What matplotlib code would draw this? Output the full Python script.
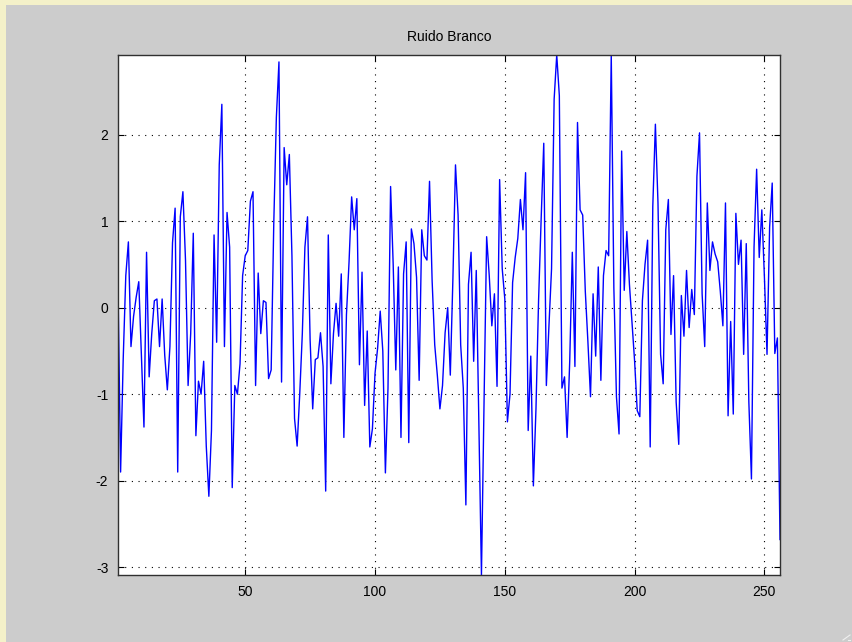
import matplotlib
matplotlib.use("Agg")
import matplotlib.pyplot as plt
import numpy as np
from matplotlib.patches import Rectangle
from matplotlib.lines import Line2D

# samples, in order, split into blocks
noise_a = [0.27, -1.9, -0.6, 0.37, 0.76, -0.45, -0.1, 0.12, 0.3, -0.55,
           -1.38, 0.64, -0.8, -0.3, 0.08, 0.1, -0.45, 0.1, -0.55, -0.95,
           -0.45, 0.75, 1.15, -1.9, 1.05, 1.34, 0.55, -0.9]
noise_b = [-0.3, 0.86, -1.48, -0.85, -1.0, -0.62, -1.6, -2.18, -1.42, 0.84,
           -0.4, 1.65, 2.35, -0.45, 1.1, 0.7, -2.08, -0.9, -1.0, -0.65,
           0.37, 0.6, 0.66, 1.23, 1.34, -0.9, 0.4, -0.3, 0.08, 0.06,
           -0.82, -0.72, 0.97]
noise_c = [2.2, 2.84, -0.86, 1.85, 1.42, 1.77, 0.6, -1.28, -1.6, -1.0,
           -0.3, 0.7, 1.05, -0.37, -1.17, -0.6, -0.58, -0.29, -0.68, -2.12,
           0.84, -0.88, -0.3, 0.05, -0.33, 0.39, -1.5, -0.08]
noise_d = [0.53, 1.28, 0.9, 1.26, -0.66, 0.41, -1.13, -0.27, -1.61, -1.4,
           -0.76, -0.47, -0.04, -0.5, -1.91, -0.93, 1.4, 0.5, -0.72, 0.47,
           -1.5, 0.39, 0.76, -1.56, 0.91, 0.74, 0.35, -0.84, 0.9, 0.6,
           0.55]
noise_e = [1.46, 0.31, -0.43, -0.78, -1.17, -0.9, -0.29, 0.0, -0.78, 0.33,
           1.65, 1.07, -0.43, -0.93, -2.28, 0.27, 0.64, -0.62, 0.43, -1.32,
           -3.09, -1.09, 0.82, 0.37, -0.21, 0.16, -0.91, 1.48, 0.45, 0.1,
           -1.32, -1.0, 0.29]
noise_f = [0.58, 0.8, 1.25, 0.9, 1.56, -1.42, -0.56, -2.06, -1.17, 0.08,
           1.03, 1.9, -0.9, -0.21, 0.45, 2.41, 2.92, 2.45, -0.93, -0.8,
           -1.5, -0.62, 0.64, -0.68, 2.14, 1.13, 1.07, 0.19, -0.39]
noise_g = [-1.03, 0.16, -0.56, 0.47, -0.84, 0.37, 0.66, 0.6, 2.92, 0.23,
           -1.03, -1.46, 1.81, 0.2, 0.88, 0.27, -0.18, -0.62, -1.19, -1.26,
           0.08, 0.5, 0.78, -1.61, 1.17, 2.12, 1.21, -0.54, -0.88, 0.9,
           1.25]
noise_h = [-0.31, 0.37, -1.09, -1.58, 0.14, -0.33, 0.43, -0.23, 0.21, -0.08,
           1.52, 2.02, 0.16, -0.45, 1.21, 0.43, 0.76, 0.62, 0.53, 0.19,
           -0.21, 1.21, -1.25, -0.16, -1.23, 1.09, 0.5, 0.78, -0.54, 0.74]
noise_i = [-1.09, -1.98, 0.7, 1.6, 0.58, 1.13, 0.35, -0.54, 0.93, 1.44,
           -0.53, -0.35, -2.68]

y = np.array(noise_a + noise_b + noise_c + noise_d + noise_e +
             noise_f + noise_g + noise_h + noise_i)
x = np.arange(1, len(y) + 1)

x_ticks = [50, 100, 150, 200, 250]
y_ticks = [-3, -2, -1, 0, 1, 2]

plt.rcParams['font.family'] = ['Liberation Sans', 'DejaVu Sans']
plt.rcParams['axes.unicode_minus'] = False

fig = plt.figure(figsize=(8.52, 6.42), dpi=100, facecolor='#cccccc')

# pale yellow window edge (left and top)
fig.patches.append(Rectangle((0, 0), 6 / 852, 1, transform=fig.transFigure,
                             facecolor='#f4f1c9', edgecolor='none', zorder=0))
fig.patches.append(Rectangle((0, 1 - 5 / 642), 1, 5 / 642, transform=fig.transFigure,
                             facecolor='#f4f1c9', edgecolor='none', zorder=0))

# resize grip in the corner
for k in range(2):
    off = 4 + 5 * k
    fig.lines.append(Line2D([1 - off / 852, 1 - 2 / 852], [2 / 642, (off - 2) / 642],
                            transform=fig.transFigure, color='#f0f0f0', lw=0.8))

ax = fig.add_axes([118 / 852, 1 - 575 / 642, 662 / 852, 520 / 642])
ax.set_facecolor('white')

ax.plot(x, y, color='blue', lw=1.0)

ax.set_xlim(1, len(y))
ax.set_ylim(y.min(), y.max())
ax.set_xticks(x_ticks)
ax.set_yticks(y_ticks)

ax.grid(True, color='black', linestyle=(0, (1, 5)), linewidth=0.8)
ax.tick_params(direction='in', length=4, width=0.8, top=True, right=True,
               labelsize=10, colors='black', pad=7)
for s in ax.spines.values():
    s.set_color('#303030')
    s.set_linewidth(1.0)

ax.set_title('Ruido Branco', fontsize=10, pad=10)

fig.savefig('out.png', dpi=100, facecolor=fig.get_facecolor())
